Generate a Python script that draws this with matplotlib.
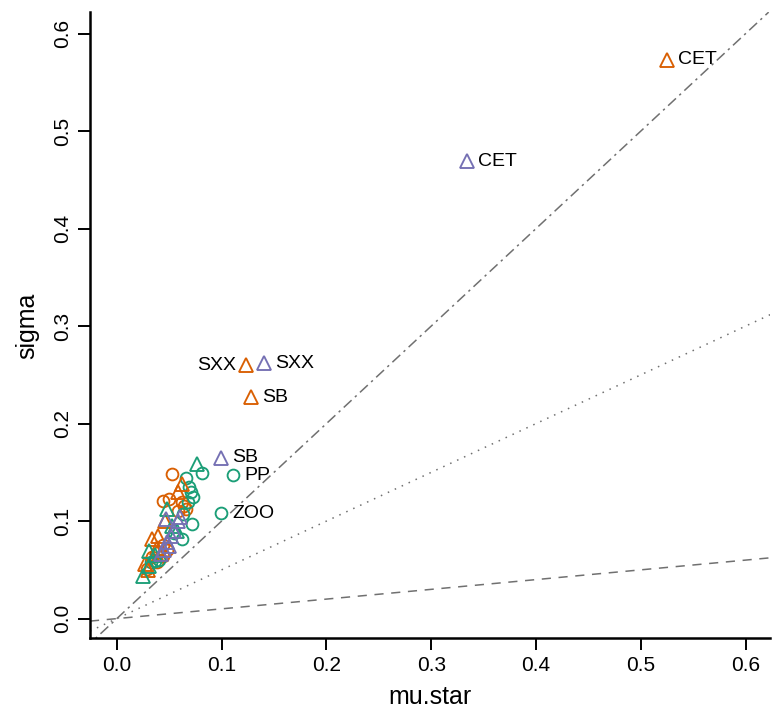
import numpy as np
import matplotlib
matplotlib.use("Agg")
import matplotlib.pyplot as plt

plt.rcParams['font.family'] = ['Liberation Sans', 'DejaVu Sans']

# colours (Dark2)
c_org = "#D95F02"
c_pur = "#7570B3"
c_grn = "#1B9E77"

# labelled points
org_lab_x = [0.525, 0.123, 0.128]
org_lab_y = [0.573, 0.260, 0.227]
org_lab = ["CET", "SXX", "SB"]

pur_lab_x = [0.334, 0.140, 0.099]
pur_lab_y = [0.469, 0.262, 0.165]
pur_lab = ["CET", "SXX", "SB"]

grn_lab_x = [0.111, 0.0995]
grn_lab_y = [0.147, 0.108]
grn_lab = ["PP", "ZOO"]

# unlabelled cluster
org_circ_x = [0.053, 0.044, 0.050, 0.062, 0.064, 0.058, 0.066, 0.044, 0.044, 0.034, 0.029, 0.040, 0.048, 0.038]
org_circ_y = [0.148, 0.121, 0.123, 0.120, 0.115, 0.110, 0.112, 0.075, 0.064, 0.063, 0.051, 0.068, 0.070, 0.058]
org_tri_x = [0.062, 0.039, 0.034, 0.038, 0.027, 0.046, 0.058, 0.030, 0.042]
org_tri_y = [0.138, 0.085, 0.082, 0.072, 0.056, 0.100, 0.130, 0.050, 0.066]

grn_circ_x = [0.0815, 0.066, 0.069, 0.071, 0.073, 0.063, 0.072, 0.062, 0.036, 0.033, 0.068, 0.055, 0.040]
grn_circ_y = [0.149, 0.144, 0.135, 0.130, 0.125, 0.107, 0.097, 0.082, 0.059, 0.058, 0.120, 0.088, 0.060]
grn_tri_x = [0.0768, 0.048, 0.053, 0.031, 0.031, 0.025, 0.057, 0.036]
grn_tri_y = [0.1585, 0.112, 0.095, 0.069, 0.054, 0.044, 0.090, 0.065]

pur_tri_x = [0.047, 0.060, 0.048, 0.055, 0.052, 0.050, 0.045, 0.058, 0.042]
pur_tri_y = [0.102, 0.104, 0.079, 0.090, 0.085, 0.074, 0.070, 0.100, 0.066]

ticks = [0.0, 0.1, 0.2, 0.3, 0.4, 0.5, 0.6]

fig = plt.figure(figsize=(7.73, 7.15), dpi=100)
ax = fig.add_axes([0.1164, 0.107, 0.88, 0.876])

# reference lines
lc = "#707070"
ax.axline((0, 0), slope=1.0, color=lc, lw=1.1, ls=(0, (1.5, 3, 7, 3)))
ax.axline((0, 0), slope=0.5, color=lc, lw=1.1, ls=(0, (1, 4)))
ax.axline((0, 0), slope=0.1, color=lc, lw=1.1, ls=(0, (6, 5)))

mk = dict(mfc="none", mew=1.35, ls="none")
ax.plot(org_circ_x, org_circ_y, "o", color=c_org, ms=8.5, **mk)
ax.plot(grn_circ_x, grn_circ_y, "o", color=c_grn, ms=8.5, **mk)
ax.plot(org_tri_x, org_tri_y, "^", color=c_org, ms=9.5, **mk)
ax.plot(grn_tri_x, grn_tri_y, "^", color=c_grn, ms=9.5, **mk)
ax.plot(pur_tri_x, pur_tri_y, "^", color=c_pur, ms=9.5, **mk)

ax.plot(org_lab_x, org_lab_y, "^", color=c_org, ms=9.5, **mk)
ax.plot(pur_lab_x, pur_lab_y, "^", color=c_pur, ms=9.5, **mk)
ax.plot(grn_lab_x, grn_lab_y, "o", color=c_grn, ms=8.5, **mk)

fs = 14
for x, y, s in zip(org_lab_x, org_lab_y, org_lab):
    if s == "SXX":
        ax.annotate(s, (x, y), xytext=(-7, 0), textcoords="offset points",
                    ha="right", va="center", fontsize=fs)
    else:
        ax.annotate(s, (x, y), xytext=(8, 0), textcoords="offset points",
                    ha="left", va="center", fontsize=fs)
for x, y, s in zip(pur_lab_x, pur_lab_y, pur_lab):
    ax.annotate(s, (x, y), xytext=(8, 0), textcoords="offset points",
                ha="left", va="center", fontsize=fs)
for x, y, s in zip(grn_lab_x, grn_lab_y, grn_lab):
    ax.annotate(s, (x, y), xytext=(8, 0), textcoords="offset points",
                ha="left", va="center", fontsize=fs)

ax.set_xlim(-0.0256, 0.6235)
ax.set_ylim(-0.0204, 0.622)
ax.set_xticks(ticks)
ax.set_yticks(ticks)
ax.set_xticklabels([f"{t:.1f}" for t in ticks], fontsize=15)
ax.set_yticklabels([f"{t:.1f}" for t in ticks], fontsize=15, rotation=90, va="center")
ax.tick_params(direction="out", length=8.5, width=1.4, pad=4)
ax.spines["top"].set_visible(False)
ax.spines["right"].set_visible(False)
ax.spines["left"].set_linewidth(1.8)
ax.spines["bottom"].set_linewidth(1.8)
ax.set_xlabel("mu.star", fontsize=18, labelpad=7)
ax.set_ylabel("sigma", fontsize=18, labelpad=10)

fig.savefig("out.png", dpi=100)
